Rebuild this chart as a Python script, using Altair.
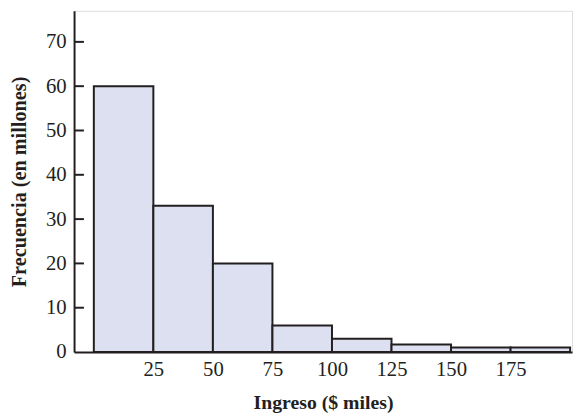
import altair as alt
import pandas as pd

bin_start = [0, 25, 50, 75, 100, 125, 150, 175]
bin_end = [25, 50, 75, 100, 125, 150, 175, 200]
freq = [60, 33, 20, 6, 3, 1.7, 1, 1]
x_ticks = [25, 50, 75, 100, 125, 150, 175]
y_ticks = [0, 10, 20, 30, 40, 50, 60, 70]

df = pd.DataFrame({"start": bin_start, "end": bin_end, "freq": freq})
tick_df = pd.DataFrame({"t": y_ticks[1:]})

FONT = "Liberation Serif"
INK = "#231f20"

xscale = alt.Scale(domain=[-8.3, 200.8], nice=False, zero=False)
yscale = alt.Scale(domain=[0, 77], nice=False)

bars = alt.Chart(df).mark_rect(fill="#dde0f0", stroke=INK, strokeWidth=2).encode(
    x=alt.X("start:Q", scale=xscale,
            axis=alt.Axis(values=x_ticks, title="Ingreso ($ miles)", ticks=False,
                          domainColor=INK, domainWidth=2, labelFont=FONT, labelFontSize=21,
                          labelColor=INK, labelPadding=7, grid=False,
                          titleFont=FONT, titleFontSize=20, titleFontWeight="bold",
                          titleColor=INK, titlePadding=13)),
    x2="end:Q",
    y=alt.Y("freq:Q", scale=yscale,
            axis=alt.Axis(values=y_ticks, title="Frecuencia (en millones)", ticks=False,
                          domainColor=INK, domainWidth=2, labelFont=FONT, labelFontSize=21,
                          labelColor=INK, labelPadding=8, grid=False,
                          titleFont=FONT, titleFontSize=20.5, titleFontWeight="bold",
                          titleColor=INK, titlePadding=16)),
    y2=alt.datum(0),
)

ticks = alt.Chart(tick_df).mark_rule(color=INK, strokeWidth=2).encode(
    x=alt.value(0), x2=alt.value(10),
    y=alt.Y("t:Q", scale=yscale),
)

chart = alt.layer(bars, ticks).properties(
    width=505, height=346,
    autosize=alt.AutoSizeParams(type="none"),
    padding={"left": 67, "top": 0, "right": 2, "bottom": 64},
).configure_view(stroke=None).configure(background="white")

chart.save("out.html", embed_options={"renderer": "svg", "actions": False})
